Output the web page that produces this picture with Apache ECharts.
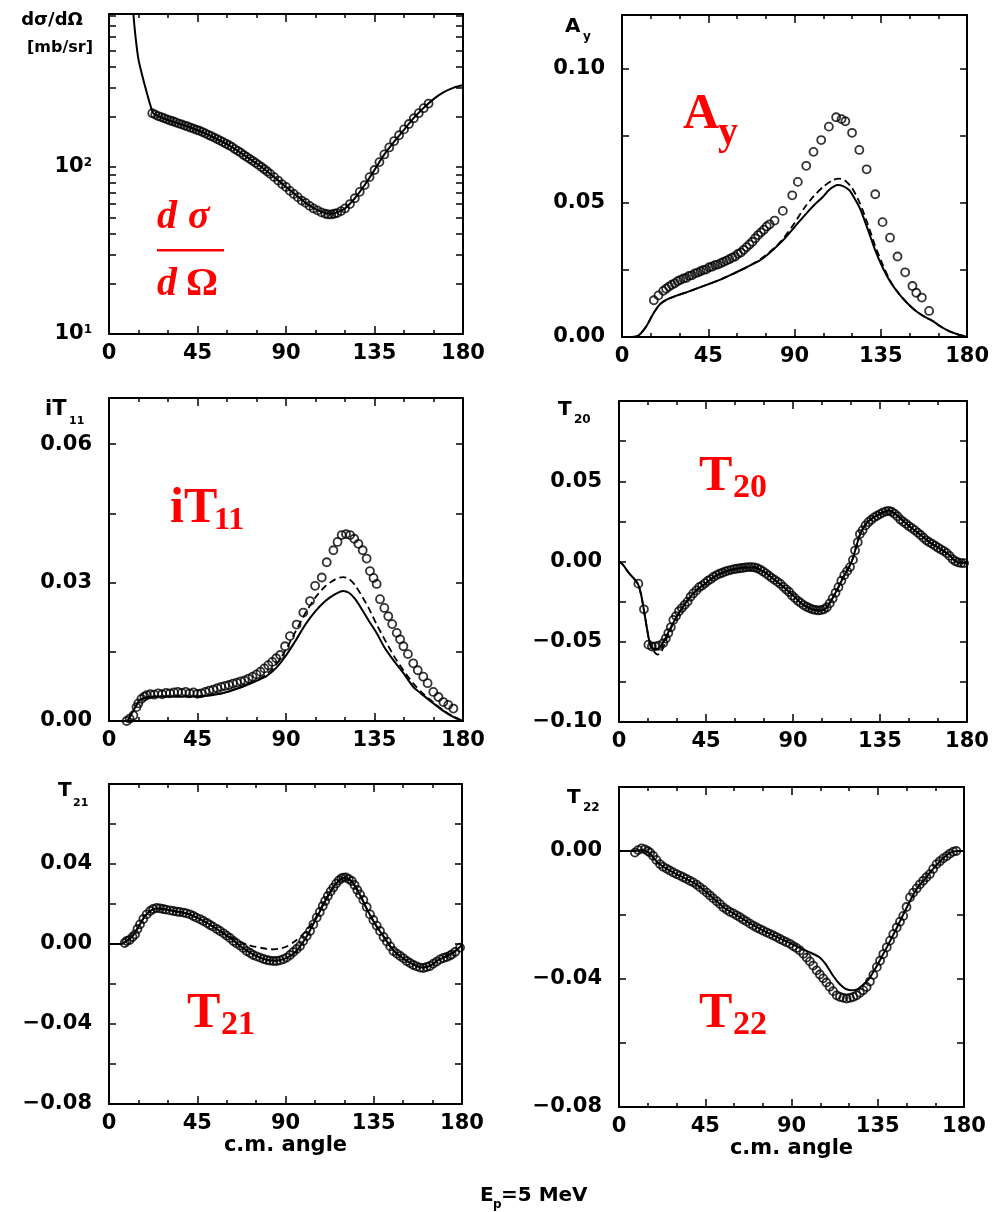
<!DOCTYPE html>
<html><head><meta charset="utf-8">
<script src="https://cdn.jsdelivr.net/npm/echarts@6/dist/echarts.min.js"></script>
<style>html,body{margin:0;padding:0;background:#fff}#c{width:992px;height:1212px}</style>
</head><body><div id="c"></div>
<script>
// ---------- x axis ----------
const angleMin = 0, angleMax = 180, angleStep = 45;
const angleName = 'c.m. angle';

// ---------- panel 1: cross section (log) ----------
const xsLabels = [10, 100];
const xsTicks = [10,20,30,40,50,60,70,80,90,100,200,300,400,500,600,700,800];
const xsData = [[22,210],[23.5,206],[25,202],[26.5,199],[28,196],[29.5,193],[31,190],[32.5,188],[34,185],[35.5,182],[37,180],[38.5,177],[40,175],[41.5,172],[43,170],[44.5,167],[46,165],[47.5,162],[49,159],[50.5,156],[52,153],[53.5,150],[55,147],[56.5,144],[58,141],[59.5,138],[61,135],[62.5,132],[64,128],[65.5,125],[67,122],[68.5,118],[70,115],[71.5,112],[73,109],[74.5,106],[76,103],[77.5,100],[79,97],[80.5,94],[82,91],[84,87],[86,83],[88,79],[90,76],[92,72],[94,69],[96,66],[98,63],[100,61],[102,58.5],[104,56.5],[106,55],[108,53.5],[110,52.5],[111.5,52],[113,52],[114.5,52.5],[116,53],[118,54.5],[120,56.5],[122.5,60],[125,65],[127.5,71],[130,78],[132.5,87],[135,96],[137.5,107],[140,119],[142.5,131],[145,143],[147.5,155],[150,168],[152.5,181],[155,196],[157.5,210],[160,225],[162.5,240]];
const xsTheory = [[11,1400],[12.4,825],[13.5,600],[15,440],[17,350],[19,285],[21,235],[22.5,210],[25,202],[30,191],[35,183],[40,175],[45,166],[50,157],[55,147],[60,137],[65,126],[70,115],[75,105],[80,95],[85,85],[90,76],[95,68],[100,61],[105,56],[110,53],[113,52.5],[116,53.5],[120,56.5],[125,65],[130,78],[135,96],[140,119],[145,142],[150,167],[155,197],[160,226],[165,255],[170,280],[175,298],[180,310]];

// ---------- panel 2: Ay ----------
const ayLabels = [0, 0.05, 0.10];
const ayTicks = [0, 0.025, 0.05, 0.075, 0.10];
const ayData = [[16.6,0.0137],[19,0.0155],[21.5,0.0172],[23,0.018],[24.5,0.0188],[26,0.0195],[27.5,0.0200],[29,0.0208],[30.5,0.0213],[32,0.0218],[33.5,0.022],[35,0.0228],[36.5,0.023],[38,0.0237],[39.5,0.024],[41,0.0245],[42.5,0.025],[44,0.0252],[45.5,0.026],[47,0.0262],[48.5,0.0268],[50,0.027],[51.5,0.0275],[53,0.028],[54.5,0.0285],[56,0.029],[57.5,0.0296],[59,0.030],[60.5,0.031],[62,0.0315],[63.5,0.0325],[65,0.0335],[66.5,0.0345],[68,0.0355],[69.5,0.0368],[71,0.038],[72.5,0.039],[74,0.040],[75.5,0.0412],[77,0.042],[79.6,0.0434],[83.9,0.047],[88.8,0.0528],[91.7,0.0578],[96.1,0.0638],[99.9,0.069],[103.9,0.0734],[107.9,0.0784],[111.7,0.0819],[114.5,0.0812],[116.5,0.0804],[120,0.0761],[123.8,0.0697],[127.6,0.0625],[132.1,0.0532],[135.9,0.0428],[139.8,0.037],[143.7,0.030],[147.7,0.0241],[151.5,0.019],[153.5,0.0165],[156.4,0.0147],[160.2,0.0097]];
const ayTheory = [[0,0],[5,0],[8,0.0003],[10,0.0015],[12.8,0.0041],[15,0.007],[17,0.0095],[19.8,0.0122],[23,0.0138],[28.4,0.0154],[35,0.017],[40.6,0.0185],[50,0.021],[57.9,0.0235],[65,0.026],[71.8,0.0285],[78,0.032],[83.9,0.036],[90,0.041],[96.1,0.046],[100,0.049],[104.7,0.0522],[108,0.0548],[112.5,0.0566],[115,0.0563],[118.6,0.0547],[121,0.052],[123.8,0.0484],[126,0.0445],[129,0.0385],[132,0.0325],[135.9,0.026],[140,0.0205],[144.6,0.016],[149,0.0125],[153.3,0.0097],[158,0.0075],[162,0.006],[166,0.004],[170.6,0.0022],[175,0.001],[180,0]];
const ayDash = [[0,0],[5,0],[8,0.0003],[10,0.0015],[12.8,0.0041],[15,0.007],[17,0.0095],[19.8,0.0122],[23,0.0138],[28.4,0.0154],[35,0.017],[40.6,0.0185],[50,0.021],[57.9,0.0235],[65,0.026],[71.8,0.0288],[80,0.0335],[85,0.0375],[90,0.0425],[95,0.048],[100,0.0525],[105,0.056],[110,0.0585],[113,0.059],[116,0.0585],[120,0.0555],[124,0.050],[128,0.0425],[132,0.034],[136,0.027],[140,0.0208],[144.6,0.016],[149,0.0125],[153.3,0.0097],[158,0.0075],[162,0.006],[166,0.004],[170.6,0.0022],[175,0.001],[180,0]];

// ---------- panel 3: iT11 ----------
const it11Labels = [0, 0.03, 0.06];
const it11Ticks = [0, 0.015, 0.03, 0.045, 0.06];
const it11Data = [[9,0.0],[10.5,0.0005],[12.4,0.0012],[14,0.003],[14.9,0.0038],[16.5,0.0048],[18,0.0053],[19.2,0.0056],[21,0.0058],[23,0.0057],[25,0.006],[27,0.0058],[29,0.0061],[31,0.006],[33,0.0062],[35,0.0063],[37,0.0061],[39,0.0063],[41,0.006],[43,0.0062],[45,0.0059],[47,0.006],[49,0.0063],[51,0.0066],[53,0.0068],[55,0.0071],[57,0.0074],[59,0.0076],[61,0.0078],[63,0.0081],[65,0.0083],[67,0.0086],[69,0.0088],[71,0.0092],[73,0.0096],[75,0.0101],[77,0.0107],[79,0.0114],[81,0.0121],[83,0.0128],[85,0.0136],[87,0.0143],[89.5,0.0162],[92,0.0184],[95.4,0.0209],[98.8,0.0235],[102.2,0.026],[104.8,0.0293],[108.2,0.0311],[110.7,0.0344],[114.1,0.037],[116.2,0.0388],[118.3,0.0403],[120.5,0.0405],[122.6,0.0403],[124.7,0.0395],[126.8,0.0384],[129,0.037],[131,0.0352],[132.7,0.0325],[134.5,0.031],[136.1,0.0297],[137.8,0.0264],[140,0.0245],[142,0.0227],[144,0.021],[146.3,0.0191],[148,0.0177],[149.7,0.0162],[152,0.0145],[154.7,0.0125],[157,0.011],[159.8,0.0096],[162,0.0082],[164.9,0.0063],[167.5,0.0052],[170,0.0041],[172.5,0.0035],[175.1,0.0027]];
const it11Theory = [[0,0],[8.8,0],[12,0.002],[15.8,0.0045],[20,0.0052],[25,0.0053],[30,0.0053],[35,0.0053],[40,0.0053],[45,0.0053],[50,0.0055],[55,0.0058],[60,0.0063],[65,0.007],[70,0.0078],[75,0.0087],[80,0.0097],[85,0.0115],[90,0.0142],[95,0.0175],[100,0.021],[105,0.0238],[110,0.026],[115,0.0275],[119,0.0282],[122,0.0278],[125,0.0265],[128,0.0246],[132,0.0218],[136,0.0191],[140,0.016],[144.6,0.0132],[150,0.0102],[154.7,0.0074],[160,0.0055],[165,0.0038],[170,0.0022],[175,0.0009],[180,0]];
const it11Dash = [[0,0],[8.8,0],[12,0.002],[15.8,0.0045],[20,0.0052],[25,0.0053],[30,0.0053],[35,0.0053],[40,0.0053],[45,0.0053],[50,0.0055],[55,0.0058],[60,0.0063],[65,0.007],[70,0.0078],[75,0.0088],[80,0.0101],[85,0.0122],[90,0.0155],[95,0.0195],[100,0.0235],[105,0.0268],[110,0.0292],[115,0.0307],[119,0.0312],[122,0.0308],[125,0.0295],[128,0.0275],[132,0.0245],[136,0.021],[140,0.0178],[145,0.014],[150,0.0108],[155,0.008],[160,0.0058],[165,0.004],[170,0.0023],[175,0.001],[180,0]];

// ---------- panel 4: T20 ----------
const t20Labels = [-0.10, -0.05, 0, 0.05];
const t20Ticks = [-0.10,-0.075,-0.05,-0.025,0,0.025,0.05,0.075];
const t20Data = [[10,-0.0138],[12.9,-0.0298],[15.2,-0.0518],[17,-0.053],[18.6,-0.0529],[20.5,-0.0525],[22.9,-0.0508],[24.2,-0.048],[25.5,-0.0446],[26.8,-0.041],[28.1,-0.0364],[29.5,-0.034],[31,-0.031],[32.5,-0.029],[34,-0.027],[35.5,-0.025],[37,-0.022],[38.4,-0.0199],[40,-0.018],[41.5,-0.016],[43,-0.015],[44.5,-0.0135],[46,-0.012],[47.5,-0.011],[49,-0.0095],[50.5,-0.0085],[52,-0.0076],[53.5,-0.007],[55,-0.0062],[56.5,-0.0057],[58,-0.0052],[59.5,-0.0048],[61,-0.0045],[62.5,-0.0042],[64,-0.004],[65.5,-0.0036],[67,-0.0035],[68.5,-0.0035],[70,-0.0037],[71.5,-0.0042],[73,-0.005],[74.5,-0.0062],[76,-0.0074],[77.5,-0.0088],[79,-0.0102],[80.5,-0.0114],[82,-0.0127],[83.5,-0.014],[85,-0.0158],[86.5,-0.0174],[88,-0.019],[89.5,-0.0212],[91,-0.0228],[92.5,-0.0245],[94,-0.0258],[95.5,-0.0272],[97,-0.0282],[98.5,-0.029],[100,-0.0298],[101.5,-0.0302],[103,-0.0305],[104.5,-0.0303],[106,-0.0298],[107.5,-0.0285],[109,-0.0261],[110.5,-0.023],[112,-0.0195],[113.5,-0.016],[115,-0.012],[116.5,-0.0085],[118,-0.006],[119.5,-0.0035],[121,0.001],[122.1,0.0068],[123.5,0.012],[124.6,0.0171],[126,0.0195],[127.5,0.0225],[129,0.0245],[130.5,0.026],[132,0.0275],[133.5,0.0285],[135,0.0295],[136.5,0.0305],[138,0.0312],[139.5,0.0316],[141,0.031],[142.5,0.0298],[144,0.0282],[145.5,0.0262],[147,0.0248],[148.5,0.0235],[150,0.022],[151.5,0.0208],[153,0.0195],[154.5,0.018],[156,0.0165],[157.5,0.0148],[159,0.0132],[160.5,0.012],[162,0.011],[163.5,0.0098],[165,0.0086],[166.5,0.0075],[168,0.0065],[169.5,0.0052],[171,0.0035],[172.5,0.0015],[174,0.0002],[175.5,-0.0006],[177,-0.001],[178.5,-0.001]];
const t20Theory = [[0,0],[2,-0.002],[5,-0.007],[8,-0.011],[10,-0.0145],[11.5,-0.021],[13,-0.031],[14.5,-0.042],[16,-0.051],[17.5,-0.054],[19.5,-0.0545],[21.5,-0.053],[23.5,-0.049],[26,-0.043],[30,-0.034],[35,-0.025],[40,-0.018],[45,-0.0135],[50,-0.009],[55,-0.0063],[60,-0.0047],[65,-0.0037],[70,-0.0037],[75,-0.0065],[80,-0.011],[85,-0.0158],[90,-0.0212],[95,-0.0268],[100,-0.0298],[104,-0.0306],[107,-0.0292],[110,-0.0238],[113,-0.0172],[116,-0.0098],[119,-0.0035],[121,0.002],[123,0.0105],[125,0.0178],[128,0.0238],[132,0.0277],[136,0.0303],[139.5,0.0318],[143,0.0295],[147,0.0252],[151,0.0212],[155,0.0175],[159,0.0135],[163,0.0102],[167,0.0072],[171,0.0038],[174,0.0003],[177,-0.001],[180,-0.001]];
const t20Dash = [[0,0],[2,-0.002],[5,-0.007],[8,-0.011],[10,-0.0145],[11.5,-0.021],[13,-0.031],[14.5,-0.042],[16,-0.052],[18,-0.056],[20,-0.058],[22,-0.056],[24,-0.050],[26,-0.044],[30,-0.034],[35,-0.025],[40,-0.018],[45,-0.0135],[50,-0.009],[55,-0.0063],[60,-0.0047],[65,-0.0037],[70,-0.0037],[75,-0.0065],[80,-0.011],[85,-0.0158],[90,-0.0212],[95,-0.0268],[100,-0.0298],[104,-0.0306],[107,-0.0292],[110,-0.0238],[113,-0.0172],[116,-0.0098],[119,-0.0035],[121,0.002],[123,0.0105],[125,0.0178],[128,0.0238],[132,0.0277],[136,0.0303],[139.5,0.0318],[143,0.0295],[147,0.0252],[151,0.0212],[155,0.0175],[159,0.0135],[163,0.0102],[167,0.0072],[171,0.0038],[174,0.0003],[177,-0.001],[180,-0.001]];

// ---------- panel 5: T21 ----------
const t21Labels = [-0.08, -0.04, 0, 0.04];
const t21Ticks = [-0.08,-0.06,-0.04,-0.02,0,0.02,0.04,0.06];
const t21Data = [[8,0.0005],[9,0.0015],[10.5,0.002],[12,0.0035],[13.3,0.0048],[14.5,0.0075],[15.8,0.0098],[17.5,0.0125],[19.2,0.0148],[21,0.0165],[22.5,0.0175],[24.3,0.018],[26,0.0178],[27.5,0.0175],[29,0.0172],[31,0.0168],[32.8,0.0165],[34.5,0.0162],[36,0.016],[38,0.0157],[39.5,0.0153],[41.3,0.0148],[43,0.014],[44.5,0.0132],[46.5,0.0124],[48.1,0.0115],[50,0.0105],[51.5,0.0095],[53,0.0087],[55,0.0075],[56.6,0.0065],[58.5,0.0053],[60,0.0042],[61.7,0.003],[63.4,0.0015],[65,0.0004],[66.8,-0.0008],[68.5,-0.002],[70.2,-0.0035],[72,-0.0045],[73.5,-0.0055],[75.3,-0.0062],[77,-0.0068],[78.8,-0.0075],[80.5,-0.008],[82,-0.0083],[83.8,-0.0085],[85.5,-0.0085],[87.2,-0.0082],[88.9,-0.0076],[90.6,-0.0068],[92.3,-0.0055],[94,-0.004],[95.7,-0.0025],[97.4,-0.001],[99,0.0015],[100.8,0.004],[102.5,0.0065],[104.2,0.0098],[105.9,0.0132],[107.5,0.016],[109,0.019],[110.2,0.0215],[111.6,0.024],[113,0.0263],[114.4,0.0282],[115.8,0.0302],[117.2,0.0318],[118.5,0.0328],[119.5,0.0332],[120.8,0.0333],[122.2,0.0325],[123.8,0.0315],[125.2,0.0295],[126.6,0.027],[128,0.0248],[129.7,0.022],[131.4,0.0185],[133.1,0.0148],[134.8,0.012],[136.5,0.0092],[138.2,0.0065],[140,0.0035],[141.7,0.0012],[143.4,-0.0012],[145,-0.0035],[146.8,-0.0048],[148.5,-0.006],[150.2,-0.0072],[151.8,-0.0085],[153.5,-0.0095],[155.2,-0.0105],[156.9,-0.0112],[158.6,-0.0118],[160.3,-0.012],[162,-0.0115],[163.7,-0.011],[165.4,-0.0098],[167.1,-0.0088],[168.8,-0.0077],[170.5,-0.007],[172.2,-0.0065],[173.9,-0.0058],[174.8,-0.0052],[176.5,-0.004],[179,-0.0018]];
const t21Theory = [[0,0],[6,0],[9,0.0015],[12,0.004],[15,0.0085],[18,0.0135],[21,0.0165],[24,0.0178],[27,0.0176],[32,0.0167],[38,0.0156],[44,0.0136],[50,0.0105],[56,0.0068],[62,0.0028],[68,-0.0018],[74,-0.0055],[80,-0.0078],[85,-0.0084],[90,-0.0072],[95,-0.004],[100,0.0025],[105,0.0115],[110,0.021],[115,0.0292],[120,0.0332],[124,0.031],[128,0.0245],[132,0.0165],[136,0.0095],[140,0.0038],[145,-0.0032],[150,-0.0072],[155,-0.0102],[160,-0.0118],[164,-0.0108],[168,-0.008],[172,-0.0062],[176,-0.004],[180,-0.0005]];
const t21Dash = [[0,0],[6,0],[9,0.0015],[12,0.004],[15,0.0085],[18,0.0135],[21,0.0165],[24,0.0178],[27,0.0176],[32,0.0167],[38,0.0156],[44,0.0136],[50,0.0105],[56,0.007],[60,0.0045],[66,0.0015],[72,-0.0008],[78,-0.002],[84,-0.0027],[90,-0.0015],[95,0.0015],[100,0.006],[105,0.0125],[110,0.0215],[115,0.0292],[120,0.0332],[124,0.031],[128,0.0245],[132,0.0165],[136,0.0095],[140,0.0038],[145,-0.0032],[150,-0.0072],[155,-0.0102],[160,-0.0118],[164,-0.0108],[168,-0.008],[172,-0.0062],[176,-0.004],[180,-0.0005]];

// ---------- panel 6: T22 ----------
const t22Labels = [-0.08, -0.04, 0];
const t22Ticks = [-0.08,-0.06,-0.04,-0.02,0];
const t22Data = [[8.3,-0.0005],[10,0.0003],[11.8,0.0008],[13.5,0.0005],[15,0.0],[16.2,-0.0005],[17.8,-0.0015],[19.5,-0.0028],[21.4,-0.0041],[23,-0.0049],[24.8,-0.0055],[26.5,-0.0061],[28.3,-0.0067],[30,-0.0072],[31.8,-0.0077],[33.5,-0.0082],[35.2,-0.0087],[37,-0.0093],[38.7,-0.0098],[40.5,-0.0105],[42.2,-0.0113],[44,-0.0121],[45.8,-0.013],[47.5,-0.0139],[49.2,-0.0148],[51,-0.0157],[52.7,-0.0166],[54.4,-0.0176],[56.1,-0.0183],[57.8,-0.019],[59.6,-0.0195],[61.3,-0.0201],[63.1,-0.0207],[64.8,-0.0214],[66.5,-0.022],[68.3,-0.0227],[70,-0.0233],[71.8,-0.0239],[73.5,-0.0244],[75.2,-0.0249],[77,-0.0254],[78.7,-0.0259],[80.5,-0.0264],[82.2,-0.0269],[84,-0.0275],[85.7,-0.028],[87.4,-0.0285],[89.2,-0.029],[90.9,-0.0297],[92.6,-0.0303],[94.4,-0.0311],[96.2,-0.0321],[97.9,-0.0333],[99.6,-0.0345],[101.3,-0.0358],[103.1,-0.0373],[104.8,-0.0386],[106.5,-0.0398],[108.2,-0.0411],[109.9,-0.0424],[111.7,-0.0438],[113.6,-0.0451],[115.3,-0.0456],[117,-0.0459],[118.8,-0.0461],[120.5,-0.0459],[122.2,-0.0456],[124,-0.0451],[125.7,-0.0443],[127.4,-0.0435],[129.2,-0.0425],[130.9,-0.0408],[132.7,-0.0387],[134.5,-0.0363],[136.2,-0.0343],[137.9,-0.0322],[139.7,-0.0301],[141.4,-0.028],[143.1,-0.026],[144.9,-0.0239],[146.6,-0.0221],[148.3,-0.0203],[150,-0.0175],[151.8,-0.0145],[153.5,-0.013],[155.3,-0.0117],[157,-0.0104],[158.7,-0.0093],[160.4,-0.0082],[162.2,-0.0072],[163.9,-0.0056],[165.7,-0.0041],[167.4,-0.0032],[169.2,-0.0023],[171,-0.0016],[172.7,-0.0008],[174.4,-0.0002],[176,0.0]];
const t22Theory = [[0,0],[8,0],[12,0.0003],[16,-0.0008],[20,-0.0035],[25,-0.0056],[30,-0.0072],[35,-0.0087],[40,-0.0103],[45,-0.0126],[50,-0.0152],[55,-0.0178],[60,-0.0196],[65,-0.0214],[70,-0.0232],[75,-0.0248],[80,-0.0262],[85,-0.0276],[90,-0.029],[95,-0.0305],[100,-0.0318],[104.6,-0.0332],[108,-0.0355],[111.6,-0.0389],[115,-0.0415],[118,-0.043],[121,-0.0435],[124,-0.0433],[127,-0.042],[130,-0.0403],[133,-0.0375],[136,-0.0343],[140,-0.0298],[145,-0.0239],[150,-0.0178],[155,-0.0121],[160,-0.0085],[165,-0.0048],[170,-0.0018],[174,-0.0002],[177,0.0],[180,0]];

// ---------- build chart ----------
const FONT = '"DejaVu Sans", sans-serif';
const SERIF = '"Liberation Serif", "DejaVu Serif", serif';
const RED = '#ff0000';
const grids = [
  {left:109, top:14, width:354, height:320},
  {left:622, top:15, width:346, height:322},
  {left:109, top:398, width:354, height:323},
  {left:619, top:401, width:348, height:321},
  {left:109, top:784, width:353, height:320},
  {left:619, top:787, width:345, height:320}
];
const panels = [
  {log:true, min:10, max:825, labels:xsLabels, ticks:xsTicks, data:xsData, solid:xsTheory, dash:null},
  {min:0, max:0.12, labels:ayLabels, ticks:ayTicks, data:ayData, solid:ayTheory, dash:ayDash},
  {min:0, max:0.07, labels:it11Labels, ticks:it11Ticks, data:it11Data, solid:it11Theory, dash:it11Dash},
  {min:-0.1, max:0.1, labels:t20Labels, ticks:t20Ticks, data:t20Data, solid:t20Theory, dash:t20Dash},
  {min:-0.08, max:0.08, labels:t21Labels, ticks:t21Ticks, data:t21Data, solid:t21Theory, dash:t21Dash, xname:true},
  {min:-0.08, max:0.02, labels:t22Labels, ticks:t22Ticks, data:t22Data, solid:t22Theory, dash:null, xname:true}
];

const lineSt = {color:'#000', width:2};
const tickSt = {color:'#000', width:1.5};
const xAxis = [], yAxis = [], series = [];
panels.forEach((p, g) => {
  const xb = {type:'value', gridIndex:g, min:angleMin, max:angleMax, interval:angleStep,
    axisLine:{show:true, onZero:false, lineStyle:lineSt},
    axisTick:{show:true, inside:true, length:8, lineStyle:tickSt},
    minorTick:{show:true, splitNumber:3, length:4, lineStyle:tickSt},
    splitLine:{show:false}, minorSplitLine:{show:false}};
  xAxis.push(Object.assign({}, xb, {position:'bottom',
    axisLabel:{show:true, color:'#000', fontFamily:FONT, fontWeight:'bold', fontSize:21, margin:9},
    name: p.xname ? angleName : '', nameLocation:'middle', nameGap:31,
    nameTextStyle:{color:'#000', fontFamily:FONT, fontWeight:'bold', fontSize:21}}));
  xAxis.push(Object.assign({}, xb, {position:'top', axisLabel:{show:false}}));
  const yb = {type: p.log ? 'log' : 'value', logBase:10, gridIndex:g, min:p.min, max:p.max,
    axisLine:{show:true, onZero:false, lineStyle:lineSt},
    axisTick:{show:true, inside:true, length:7, lineStyle:tickSt, customValues:p.ticks},
    splitLine:{show:false}};
  const fmt = p.log
    ? (v => '{a|10}{s|' + Math.round(Math.log10(v)) + '}')
    : (v => (v < -1e-9 ? '\u2212' : '') + Math.abs(v).toFixed(2));
  yAxis.push(Object.assign({}, yb, {position:'left',
    axisLabel:{show:true, customValues:p.labels, formatter:fmt, color:'#000', fontFamily:FONT, fontWeight:'bold', fontSize:21, margin:17,
      rich:{a:{fontFamily:FONT, fontWeight:'bold', fontSize:21, color:'#000'}, s:{fontFamily:FONT, fontWeight:'bold', fontSize:12, color:'#000', verticalAlign:'top'}}}}));
  yAxis.push(Object.assign({}, yb, {position:'right', axisLabel:{show:false}}));
  series.push({type:'scatter', xAxisIndex:2*g, yAxisIndex:2*g, data:p.data, symbol:'circle', symbolSize:8,
    itemStyle:{color:'rgba(255,255,255,0)', borderColor:'#000', borderWidth:1.8}, z:3, silent:true});
  series.push({type:'line', xAxisIndex:2*g, yAxisIndex:2*g, data:p.solid, showSymbol:false, smooth:0.25,
    lineStyle:{color:'#000', width:2}, z:2, silent:true});
  if (p.dash) series.push({type:'line', xAxisIndex:2*g, yAxisIndex:2*g, data:p.dash, showSymbol:false, smooth:0.25,
    lineStyle:{color:'#000', width:1.8, type:[7,4]}, z:2, silent:true});
});

function T(x, y, s, font, fill, align) {
  return {type:'text', x:x, y:y, silent:true, style:{text:s, font:font, fill:fill || '#000', textAlign:align || 'left', textVerticalAlign:'middle'}};
}
const bF = n => 'bold ' + n + 'px ' + FONT;
const rF = n => 'bold ' + n + 'px ' + SERIF;
const riF = n => 'italic bold ' + n + 'px ' + SERIF;
const graphic = [
  // black axis titles
  T(52, 20, 'd\u03c3/d\u03a9', bF(18), '#000', 'center'),
  T(60, 48, '[mb/sr]', bF(16), '#000', 'center'),
  T(565, 27, 'A', bF(20)), T(583, 37, 'y', bF(12)),
  T(45, 410, 'iT', bF(21)), T(69, 421, '11', bF(11)),
  T(558, 410, 'T', bF(20)), T(574, 420, '20', bF(12)),
  T(58, 791, 'T', bF(20)), T(73, 803, '21', bF(11)),
  T(567, 798, 'T', bF(20)), T(583, 808, '22', bF(12)),
  // bottom caption
  T(480, 1196, 'E', bF(20)), T(493, 1205, 'p', bF(12)), T(501, 1196, '=5 MeV', bF(20)),
  // red annotations
  T(157, 218, 'd', riF(40), RED), T(188, 218, '\u03c3', riF(40), RED),
  {type:'rect', silent:true, shape:{x:157, y:249, width:67, height:2.5}, style:{fill:RED}},
  T(157, 285, 'd', riF(40), RED), T(186, 285, '\u03a9', rF(40), RED),
  T(683, 115, 'A', rF(50), RED), T(718, 134, 'y', rF(40), RED),
  T(170, 509, 'iT', rF(50), RED), T(214, 521, '11', rF(32), RED),
  T(699, 477, 'T', rF(50), RED), T(733, 488, '20', rF(34), RED),
  T(187, 1014, 'T', rF(50), RED), T(221, 1025, '21', rF(34), RED),
  T(699, 1014, 'T', rF(50), RED), T(733, 1025, '22', rF(34), RED)
];

const chart = echarts.init(document.getElementById('c'), null, {renderer:'canvas'});
chart.setOption({
  animation:false,
  backgroundColor:'#fff',
  grid: grids.map(g => Object.assign({show:false, containLabel:false}, g)),
  xAxis: xAxis, yAxis: yAxis, series: series, graphic: graphic
});
</script></body></html>
